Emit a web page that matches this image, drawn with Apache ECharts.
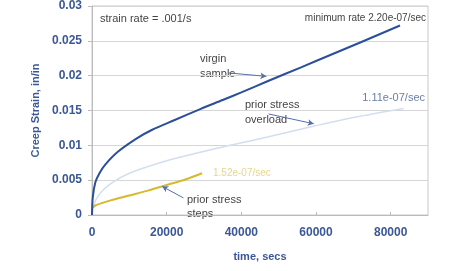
<!DOCTYPE html>
<html>
<head>
<meta charset="utf-8">
<style>
    html, body {margin:0;padding:0;background:#fff;}
    #chart {width:449px;height:271px;}
</style>
</head>
<body>
<div id="chart"></div>
<script src="https://cdn.jsdelivr.net/npm/echarts@6/dist/echarts.min.js"></script>
<script>
// time (s)
var virginTime = [0, 200, 900, 2000, 3500, 7000, 12000, 16000, 22000, 29000, 35000, 40000, 47000, 56000, 64000, 72000, 82500];
var virginStrain = [0, 0.0025, 0.0047, 0.0060, 0.0072, 0.0091, 0.0110, 0.0122, 0.0136, 0.0152, 0.0165, 0.0176, 0.0192, 0.0212, 0.0230, 0.0248, 0.0272];

var overloadTime = [0, 500, 2000, 5000, 10000, 20000, 29000, 37000, 47000, 59000, 70000, 83500];
var overloadStrain = [0, 0.0015, 0.0030, 0.0045, 0.0060, 0.0078, 0.0090, 0.0100, 0.0112, 0.0127, 0.0140, 0.0153];

var stepsTime = [0, 1000, 5000, 10000, 15000, 20000, 25000, 29500];
var stepsStrain = [0.0010, 0.0014, 0.0021, 0.0028, 0.0035, 0.0043, 0.0051, 0.0060];

var xTicks = [0, 20000, 40000, 60000, 80000];
var yTicks = [0, 0.005, 0.01, 0.015, 0.02, 0.025, 0.03];

function pairs(t, v) {
    return t.map(function (x, i) { return [x, v[i]]; });
}

// arrow helper: tail -> head in data coords
function arrow(x1, y1, x2, y2) {
    return [{coord: [x1, y1], symbol: 'none'}, {coord: [x2, y2], symbol: 'arrow', symbolSize: [5, 6]}];
}

var axisBlue = '#3b5797';
var txt = '#444';

var chart = echarts.init(document.getElementById('chart'));
chart.setOption({
    animation: false,
    grid: {left: 92, right: 21, top: 6, bottom: 56, show: true, borderColor: '#c8c8c8', borderWidth: 1},
    xAxis: {
        type: 'value', min: 0, max: 90000, interval: 20000,
        name: 'time, secs', nameLocation: 'middle', nameGap: 36,
        nameTextStyle: {color: axisBlue, fontWeight: 'bold', fontSize: 11, fontFamily: 'Liberation Sans'},
        axisLine: {lineStyle: {color: '#bbbbbb'}},
        axisTick: {show: true, inside: true, length: 3, lineStyle: {color: '#bbbbbb'}},
        splitLine: {show: false},
        axisLabel: {
            color: axisBlue, fontWeight: 'bold', fontSize: 12, fontFamily: 'Liberation Sans', margin: 12,
            showMaxLabel: false,
            formatter: function (v) { return xTicks.indexOf(v) >= 0 ? String(v) : ''; }
        }
    },
    yAxis: {
        type: 'value', min: 0, max: 0.03, interval: 0.005,
        name: 'Creep Strain, in/in', nameLocation: 'middle', nameGap: 45,
        nameTextStyle: {color: axisBlue, fontWeight: 'bold', fontSize: 11, fontFamily: 'Liberation Sans'},
        axisLine: {show: true, lineStyle: {color: '#bbbbbb'}},
        axisTick: {show: true, length: 4, lineStyle: {color: '#bbbbbb'}},
        splitLine: {lineStyle: {color: '#d6d6d6'}},
        axisLabel: {
            color: axisBlue, fontWeight: 'bold', fontSize: 12, fontFamily: 'Liberation Sans', margin: 10,
            formatter: function (v) {
                var s = yTicks.filter(function (t) { return Math.abs(t - v) < 1e-9; });
                return s.length ? String(+v.toFixed(3)) : '';
            }
        }
    },
    series: [
        {
            name: 'prior stress overload', type: 'line', smooth: 0.3, symbol: 'none',
            data: pairs(overloadTime, overloadStrain),
            lineStyle: {color: '#d3def0', width: 1.5},
            markLine: {
                silent: true, label: {show: false},
                lineStyle: {color: '#5670a8', width: 1, type: 'solid'},
                data: [arrow(47300, 0.0145, 59400, 0.0131)]
            }
        },
        {
            name: 'prior stress steps', type: 'line', smooth: 0.3, symbol: 'none',
            data: pairs(stepsTime, stepsStrain),
            lineStyle: {color: '#d6b92f', width: 2},
            markLine: {
                silent: true, label: {show: false},
                lineStyle: {color: '#5670a8', width: 1, type: 'solid'},
                data: [arrow(24500, 0.00245, 18800, 0.0041)]
            }
        },
        {
            name: 'virgin sample', type: 'line', smooth: 0.3, symbol: 'none',
            data: pairs(virginTime, virginStrain),
            lineStyle: {color: '#2b4f98', width: 2},
            markLine: {
                silent: true, label: {show: false},
                lineStyle: {color: '#5670a8', width: 1, type: 'solid'},
                data: [arrow(36500, 0.0204, 46700, 0.0199)]
            }
        }
    ],
    graphic: [
        {type: 'text', left: 100, top: 13, style: {text: 'strain rate = .001/s', fill: txt, font: '11px Liberation Sans'}},
        {type: 'text', right: 23, top: 13, style: {text: 'minimum rate 2.20e-07/sec', fill: txt, font: '10px Liberation Sans'}},
        {type: 'text', left: 200, top: 51, style: {text: 'virgin\nsample', fill: txt, font: '11px Liberation Sans', lineHeight: 15}},
        {type: 'text', left: 245, top: 97, style: {text: 'prior stress\noverload', fill: txt, font: '11px Liberation Sans', lineHeight: 15}},
        {type: 'text', right: 24, top: 92, style: {text: '1.11e-07/sec', fill: '#6b7ea6', font: '11px Liberation Sans'}},
        {type: 'text', left: 213, top: 168, style: {text: '1.52e-07/sec', fill: '#e6d68c', font: '10px Liberation Sans'}},
        {type: 'text', left: 187, top: 193, style: {text: 'prior stress\nsteps', fill: txt, font: '11px Liberation Sans', lineHeight: 14}}
    ]
});
</script>
</body>
</html>
